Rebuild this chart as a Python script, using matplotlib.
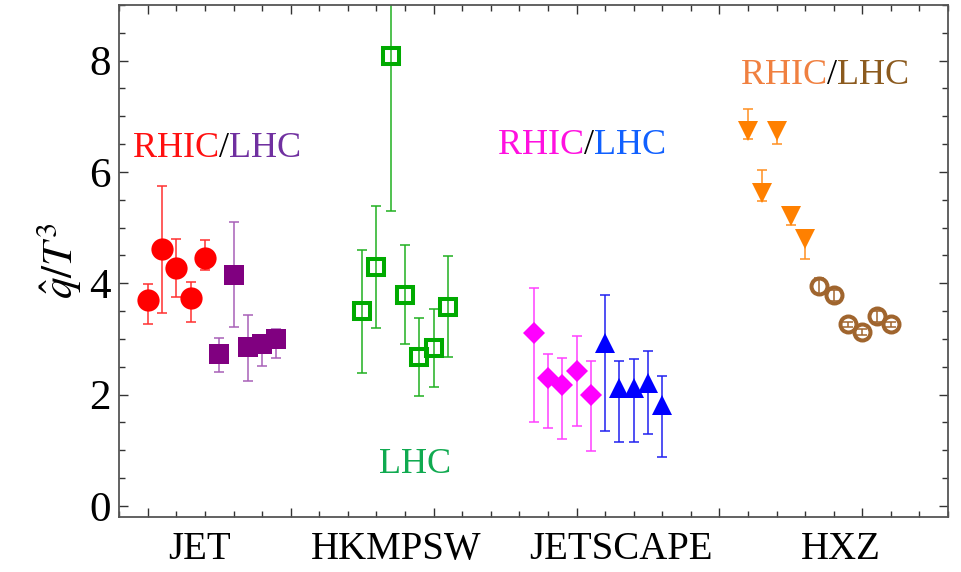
import numpy as np
import matplotlib
matplotlib.use("Agg")
import matplotlib.pyplot as plt
from matplotlib.ticker import MultipleLocator, FixedLocator

plt.rcParams['font.family'] = ['Liberation Serif', 'DejaVu Serif']
plt.rcParams['mathtext.fontset'] = 'stix'

# ---- data (qhat/T^3 values with lower / upper error bounds) ----
groups = ["JET", "HKMPSW", "JETSCAPE", "HXZ"]

jet_rhic = [3.69, 4.61, 4.27, 3.74, 4.46]
jet_rhic_lo = [3.27, 3.47, 3.75, 3.31, 4.24]
jet_rhic_hi = [3.98, 5.75, 4.80, 4.02, 4.78]

jet_lhc = [2.73, 4.15, 2.85, 2.90, 2.99]
jet_lhc_lo = [2.40, 3.22, 2.25, 2.52, 2.66]
jet_lhc_hi = [3.01, 5.10, 3.43, 3.05, 3.17]

hkmpsw = [3.50, 4.29, 8.09, 3.79, 2.67, 2.84, 3.58]
hkmpsw_lo = [2.39, 3.19, 5.29, 2.90, 1.98, 2.13, 2.67]
hkmpsw_hi = [4.60, 5.38, 11.0, 4.68, 3.38, 3.54, 4.49]

jetscape_rhic = [3.10, 2.30, 2.17, 2.42, 2.00]
jetscape_rhic_lo = [1.50, 1.39, 1.21, 1.44, 0.99]
jetscape_rhic_hi = [3.91, 2.72, 2.66, 3.06, 2.61]

jetscape_lhc = [2.92, 2.11, 2.12, 2.20, 1.81]
jetscape_lhc_lo = [1.34, 1.14, 1.15, 1.29, 0.88]
jetscape_lhc_hi = [3.78, 2.61, 2.63, 2.78, 2.33]

hxz_rhic = [6.74, 5.63, 6.74, 5.20, 4.79]
hxz_rhic_lo = [6.59, 5.47, 6.50, 5.04, 4.43]
hxz_rhic_hi = [7.13, 6.04, 6.85, 5.30, 4.90]

hxz_lhc = [3.95, 3.78, 3.26, 3.12, 3.41, 3.26]
hxz_lhc_lo = [3.80, 3.68, 3.21, 3.07, 3.31, 3.21]
hxz_lhc_hi = [4.10, 3.88, 3.31, 3.17, 3.51, 3.31]

fig = plt.figure(figsize=(9.61, 5.72), dpi=100)
ax = fig.add_axes([0.1241, 0.0962, 0.8624, 0.8951])


def series(x0, y, lo, hi, marker, ms, face, edge, ecol, mew=0.0):
    y = np.array(y)
    x = x0 + np.arange(len(y))
    yerr = [y - np.array(lo), np.array(hi) - y]
    ax.errorbar(x, y, yerr=yerr, fmt='none', ecolor=ecol, elinewidth=1.1,
                capsize=3.3, capthick=1.1, zorder=2)
    ax.plot(x, y, linestyle='none', marker=marker, ms=ms, mfc=face,
            mec=edge, mew=mew, zorder=3)


series(2, jet_rhic, jet_rhic_lo, jet_rhic_hi, 'o', 16.0, '#FF0000', '#FF0000', '#FF3030')
series(7, jet_lhc, jet_lhc_lo, jet_lhc_hi, 's', 14.0, '#800080', '#800080', '#A860B8')
series(17, hkmpsw, hkmpsw_lo, hkmpsw_hi, 's', 11.0, 'none', '#00AA00', '#20B020', mew=2.9)
series(29, jetscape_rhic, jetscape_rhic_lo, jetscape_rhic_hi, 'D', 11.5, '#FF00FF', '#FF00FF', '#FF40FF')
series(34, jetscape_lhc, jetscape_lhc_lo, jetscape_lhc_hi, '^', 14.5, '#0000FF', '#0000FF', '#2020F0')
series(44, hxz_rhic, hxz_rhic_lo, hxz_rhic_hi, 'v', 14.5, '#FF8000', '#FF8000', '#FF9020')
series(49, hxz_lhc, hxz_lhc_lo, hxz_lhc_hi, 'o', 11.5, 'none', '#A0652E', '#A0652E', mew=2.9)

ax.set_xlim(0, 58)
ax.set_ylim(-0.2, 9)

# axes frame and ticks
for s in ax.spines.values():
    s.set_color('#555555')
    s.set_linewidth(1.3)
ax.xaxis.set_major_locator(FixedLocator([2, 12, 22, 32, 42, 52]))
ax.xaxis.set_minor_locator(MultipleLocator(2))
ax.yaxis.set_major_locator(MultipleLocator(2))
ax.yaxis.set_minor_locator(MultipleLocator(0.5))
ax.tick_params(which='both', direction='in', top=True, right=True,
               color='#333333', width=1.0)
ax.tick_params(which='major', length=6.5)
ax.tick_params(which='minor', length=4)
ax.tick_params(axis='y', labelsize=31, pad=6)
ax.tick_params(axis='x', labelbottom=False)

ax.set_ylabel(r'$\hat{q}/T^3$', fontsize=31, labelpad=4)

# group names under the axis
label_x = [5.65, 19.35, 35.1, 50.5]
for name, xc in zip(groups, label_x):
    ax.text(xc, -0.064, name, transform=ax.get_xaxis_transform(),
            ha='center', va='center', fontsize=28)


def two_color(x, y, left, lcol, right, rcol):
    t1 = ax.text(x, y, left, color=lcol, fontsize=26, va='center', ha='left')
    t2 = ax.annotate('/', xy=(1, 0.5), xycoords=t1, color='black',
                     fontsize=26, va='center', ha='left')
    ax.annotate(right, xy=(1, 0.5), xycoords=t2, color=rcol,
                fontsize=26, va='center', ha='left')


two_color(0.95, 6.42, 'RHIC', '#FF1010', 'LHC', '#7030A0')
two_color(26.5, 6.47, 'RHIC', '#FF10E0', 'LHC', '#1060FF')
two_color(43.5, 7.73, 'RHIC', '#F08040', 'LHC', '#8B5A1E')
ax.text(20.7, 0.75, 'LHC', color='#10AA50', fontsize=26, ha='center', va='center')

fig.savefig('out.png', dpi=100)
